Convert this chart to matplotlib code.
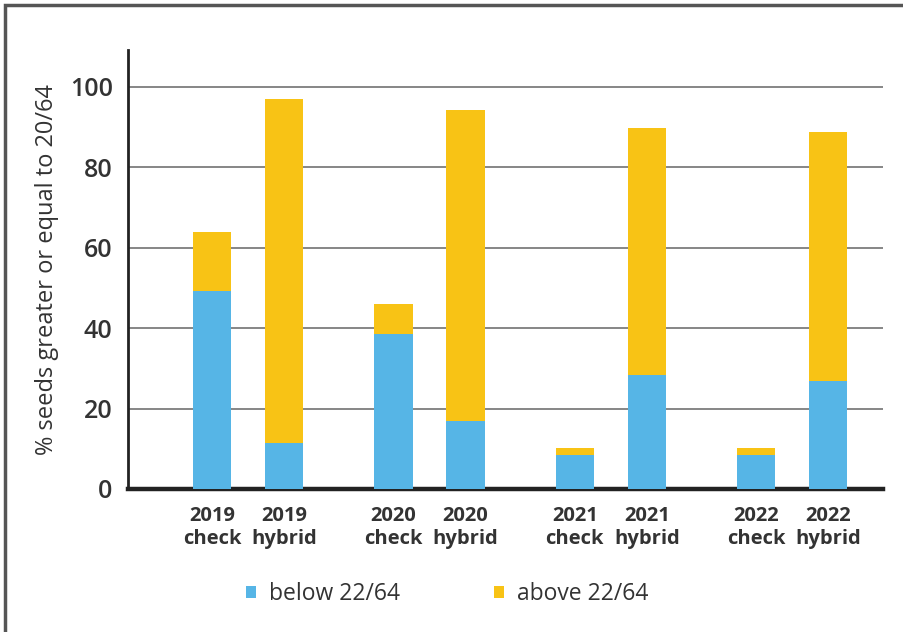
import numpy as np
import matplotlib
matplotlib.use('Agg')
import matplotlib.pyplot as plt
from matplotlib.patches import Rectangle

plt.rcParams['font.family'] = ['Open Sans', 'DejaVu Sans']

categories = ['2019\ncheck', '2019\nhybrid', '2020\ncheck', '2020\nhybrid',
              '2021\ncheck', '2021\nhybrid', '2022\ncheck', '2022\nhybrid']
below = [49.2, 11.4, 38.6, 16.9, 8.5, 28.4, 8.5, 26.9]
total = [63.9, 97.0, 46.0, 94.3, 10.2, 89.8, 10.2, 88.8]
above = [t - b for t, b in zip(total, below)]

blue = '#56B5E6'
yellow = '#F8C315'
text_col = '#333333'

# pairs of bars with a wider gap between years
x = np.array([g * 2.52 + k for g in range(4) for k in range(2)])

fig = plt.figure(figsize=(9.04, 6.32), dpi=100)
ax = fig.add_axes([128 / 904, 1 - 489 / 632, (883 - 128) / 904, (489 - 50) / 632])

ax.bar(x, below, width=0.53, color=blue, zorder=3, label='below 22/64')
ax.bar(x, above, bottom=below, width=0.53, color=yellow, zorder=3, label='above 22/64')

ax.set_ylim(0, 109.2)
ax.set_xlim(-1.167, 9.32)
ax.set_yticks([0, 20, 40, 60, 80, 100])
ax.yaxis.grid(True, color='#666666', linewidth=1.1, zorder=0)
ax.set_axisbelow(True)

ax.set_xticks(x)
ax.set_xticklabels(categories, fontsize=14.5, fontweight='bold', color=text_col,
                   linespacing=1.2)
ax.tick_params(axis='x', length=0, pad=12)
ax.tick_params(axis='y', length=0, pad=11, labelsize=18, labelcolor=text_col)
for lab in ax.get_yticklabels():
    lab.set_fontweight('semibold')

for s in ['top', 'right']:
    ax.spines[s].set_visible(False)
ax.spines['left'].set_linewidth(2)
ax.spines['left'].set_color('#222222')
ax.spines['bottom'].set_linewidth(3.2)
ax.spines['bottom'].set_color('#222222')

ax.set_ylabel('% seeds greater or equal to 20/64', fontsize=17, color=text_col,
              labelpad=8)

handles, labels = ax.get_legend_handles_labels()
fig.legend(handles, labels, loc='center', bbox_to_anchor=(447 / 904, 1 - 594 / 632),
           ncol=2, frameon=False, fontsize=16.5, handlelength=0.45, handleheight=0.45,
           handletextpad=0.55, columnspacing=4.1, labelcolor=text_col)

# outer frame (left and top edges visible)
fig.patches.append(Rectangle((5 / 904, -0.05), 1.1, 1 - 5 / 632 + 0.05,
                             transform=fig.transFigure, fill=False,
                             edgecolor='#555555', linewidth=2.5))

fig.savefig('out.png', dpi=100)
